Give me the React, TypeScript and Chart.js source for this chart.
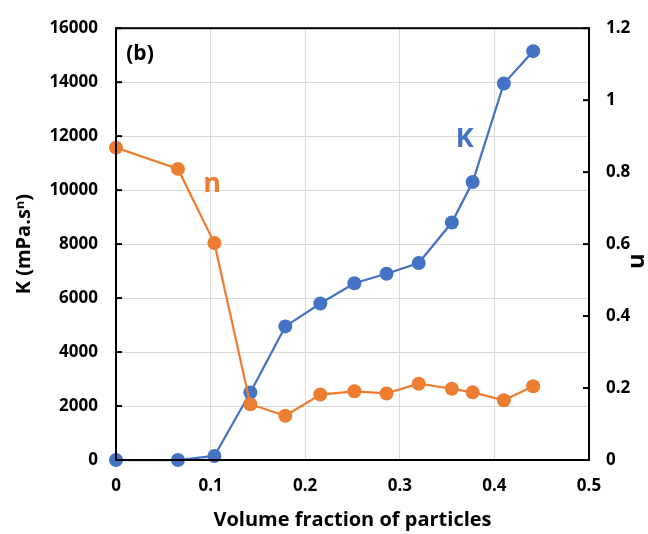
import React, { useEffect, useRef } from "react";
import { Chart, registerables } from "chart.js";
Chart.register(...registerables);

const volumeFraction = [0, 0.0655, 0.104, 0.142, 0.179, 0.216, 0.252, 0.286, 0.32, 0.355, 0.377, 0.41, 0.441];
const kValues = [0, 0, 150, 2500, 4950, 5800, 6550, 6900, 7300, 8800, 10300, 13950, 15150];
const nValues = [0.868, 0.809, 0.603, 0.155, 0.123, 0.182, 0.191, 0.185, 0.212, 0.198, 0.188, 0.166, 0.205];

const xTitle = "Volume fraction of particles";
const kTitle = "K (mPa.s\u207F)";
const nTitle = "n";
const panelLabel = "(b)";
const kLabel = { text: "K", x: 0.3686, y: 11890 };
const nLabel = { text: "n", x: 0.1015, y: 0.766 };

const BLUE = "#4472C4";
const ORANGE = "#ED7D31";
const FONT = "'Open Sans', 'Liberation Sans', sans-serif";

const fmt = (v: number) => String(parseFloat(Number(v).toFixed(1)));

const framePlugin = {
  id: "frame",
  afterDatasetsDraw(chart: any) {
    const { ctx, chartArea: a, scales } = chart;
    ctx.save();
    ctx.strokeStyle = "#000";
    ctx.lineWidth = 2;
    scales.y.ticks.forEach((t: any) => {
      const py = scales.y.getPixelForValue(t.value);
      ctx.beginPath();
      ctx.moveTo(a.left, py);
      ctx.lineTo(a.left + 6, py);
      ctx.stroke();
    });
    scales.y1.ticks.forEach((t: any) => {
      const py = scales.y1.getPixelForValue(t.value);
      ctx.beginPath();
      ctx.moveTo(a.right, py);
      ctx.lineTo(a.right - 6, py);
      ctx.stroke();
    });
    ctx.strokeRect(a.left, a.top, a.right - a.left, a.bottom - a.top);
    ctx.textAlign = "center";
    ctx.textBaseline = "middle";
    ctx.fillStyle = "#000";
    ctx.font = `bold 21px ${FONT}`;
    ctx.fillText(panelLabel, a.left + 24, a.top + 26);
    // right axis title, rotated clockwise
    ctx.save();
    ctx.translate(chart.width - 10, (a.top + a.bottom) / 2 + 17);
    ctx.rotate(Math.PI / 2);
    ctx.font = `bold 24px ${FONT}`;
    ctx.fillText(nTitle, 0, 0);
    ctx.restore();
    ctx.font = `bold 27px ${FONT}`;
    ctx.fillStyle = BLUE;
    ctx.fillText(kLabel.text, scales.x.getPixelForValue(kLabel.x), scales.y.getPixelForValue(kLabel.y));
    ctx.fillStyle = ORANGE;
    ctx.fillText(nLabel.text, scales.x.getPixelForValue(nLabel.x), scales.y1.getPixelForValue(nLabel.y));
    ctx.restore();
  },
};

export default function App() {
  const ref = useRef<HTMLCanvasElement>(null);
  useEffect(() => {
    if (!ref.current) return;
    const chart = new Chart(ref.current, {
      type: "line",
      data: {
        datasets: [
          {
            label: "n",
            data: volumeFraction.map((x, i) => ({ x, y: nValues[i] })),
            yAxisID: "y1",
            borderColor: ORANGE,
            backgroundColor: ORANGE,
            borderWidth: 2.25,
            pointRadius: 7,
            pointBorderWidth: 0,
            clip: false,
          } as any,
          {
            label: "K",
            data: volumeFraction.map((x, i) => ({ x, y: kValues[i] })),
            yAxisID: "y",
            borderColor: BLUE,
            backgroundColor: BLUE,
            borderWidth: 2.25,
            pointRadius: 7,
            pointBorderWidth: 0,
            clip: false,
          } as any,
        ],
      },
      options: {
        animation: false,
        responsive: true,
        maintainAspectRatio: false,
        layout: { padding: { top: 20, left: 0, right: 0, bottom: 0 } },
        plugins: { legend: { display: false }, tooltip: { enabled: false } },
        scales: {
          x: {
            type: "linear",
            min: 0,
            max: 0.5,
            afterFit: (s: any) => { s.height = 74; },
            ticks: { stepSize: 0.1, callback: (v: any) => fmt(v), font: { family: FONT, size: 17, weight: "bold" }, color: "#000", padding: 16 },
            grid: { color: "#d9d9d9", lineWidth: 1, drawTicks: false },
            border: { display: false },
            title: { display: true, text: xTitle, font: { family: FONT, size: 20, weight: "bold" }, color: "#000", padding: { top: 0, bottom: 2 } },
          },
          y: {
            type: "linear",
            position: "left",
            min: 0,
            max: 16000,
            afterFit: (s: any) => { s.width = 116; },
            ticks: { stepSize: 2000, callback: (v: any) => String(v), font: { family: FONT, size: 17, weight: "bold" }, color: "#000", padding: 18 },
            grid: { color: "#d9d9d9", lineWidth: 1, drawTicks: false },
            border: { display: false },
            title: { display: true, text: kTitle, font: { family: FONT, size: 20, weight: "bold" }, color: "#000", padding: { top: 12, bottom: 0 } },
          },
          y1: {
            type: "linear",
            position: "right",
            min: 0,
            max: 1.2,
            afterFit: (s: any) => { s.width = 59; },
            ticks: { stepSize: 0.2, callback: (v: any) => fmt(v), font: { family: FONT, size: 17, weight: "bold" }, color: "#000", padding: 17 },
            grid: { display: false, drawTicks: false },
            border: { display: false },
            title: { display: false },
          },
        },
      } as any,
      plugins: [framePlugin],
    });
    return () => chart.destroy();
  }, []);
  return (
    <div style={{ position: "absolute", left: 0, top: 0, width: 648, height: 534 }}>
      <canvas ref={ref} />
    </div>
  );
}
